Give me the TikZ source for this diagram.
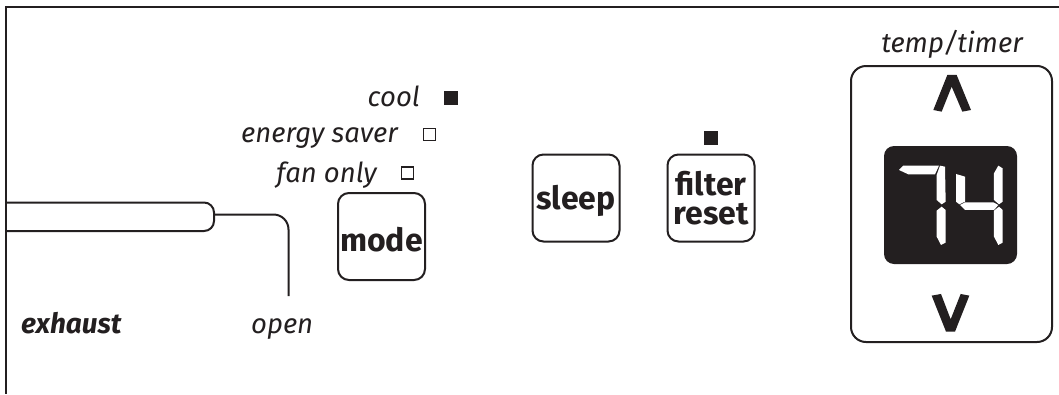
\documentclass[tikz,border=0pt]{standalone}
\usepackage{fontspec}
\setmainfont{Fira Sans}
\definecolor{ink}{HTML}{231F20}
\tikzset{
  linework/.style={draw=ink,line width=2pt},
  btn/.style={linework,rounded corners=11pt,minimum width=87pt,minimum height=87pt,inner sep=0pt,align=center,font=\fontsize{32}{29}\selectfont\bfseries,text=ink},
  lbl/.style={font=\fontsize{27.5}{32}\selectfont\itshape,text=ink,inner sep=0pt},
  ledon/.style={fill=ink,draw=ink,line width=0.5pt,minimum size=13pt,inner sep=0pt},
  ledoff/.style={draw=ink,line width=1.2pt,fill=white,minimum size=12pt,inner sep=0pt},
  seg/.style={fill=white,draw=none}
}
\begin{document}
\begin{tikzpicture}[x=1pt,y=-1pt]
\useasboundingbox (0,0) rectangle (1059,394);
\fill[white] (0,0) rectangle (1059,394);
% frame
\draw[linework] (1059,6.5) -- (6,6.5) -- (6,394);
% slider
\draw[linework] (6,202.5) -- (204,202.5) arc[start angle=-90,end angle=0,radius=10]
  -- (214,221) arc[start angle=0,end angle=90,radius=10] -- (6,231);
\coordinate (sliderend) at (214,214.5);
\coordinate (openend) at (288.5,296);
\draw[linework,rounded corners=15pt] (sliderend) -- (288.5,214.5) -- (openend);
\node[lbl,anchor=base west,font=\fontsize{28}{32}\selectfont\bfseries\itshape] (exhaust) at (21,333) {exhaust};
\node[lbl,anchor=base west] (open) at (251,333) {open};
% mode labels
\node[lbl,anchor=base east] (cool) at (420,106) {cool};
\node[lbl,anchor=base east] (saver) at (398,142) {energy saver};
\node[lbl,anchor=base east] (fan) at (377,182) {fan only};
\node[ledon] (ledcool) at (451,97.5) {};
\node[ledoff] (ledsaver) at (429.5,134.5) {};
\node[ledoff] (ledfan) at (407.5,173) {};
% buttons
\node[btn] (mode) at (381.5,236.5) {\raisebox{-3pt}[\height][\depth]{mode}};
\node[btn] (sleep) at (576,198) {\raisebox{-3pt}[\height][\depth]{sleep}};
\node[btn] (filter) at (711,198) {filter\\reset};
\node[ledon] (ledfilter) at (711,137.5) {};
% temp/timer
\node[lbl,anchor=base] (temp) at (952,52) {temp/timer};
\node[linework,rounded corners=15pt,minimum width=201pt,minimum height=276pt,inner sep=0pt] (panel) at (951.5,204) {};
\node[fill=ink,rounded corners=10pt,minimum width=133pt,minimum height=118pt,inner sep=0pt] (display) at (950.5,205) {};
\begin{scope}[shift={(840,20)},x=0.3333pt,y=-0.3333pt]
\fill[ink] (338,165) -- (322,165) -- (280,270) -- (305,275) -- (335,200) -- (367,275) -- (393,270) -- (350,165) -- cycle;
\fill[ink] (275,827) -- (303,822) -- (332,898) -- (362,822) -- (388,827) -- (345,935) -- (318,935) -- cycle;
\fill[seg] (177,450) -- (190,437) -- (297,437) -- (285,463) -- (205,463) -- cycle;
\fill[seg] (300,437) -- (315,440) -- (317,545) -- (305,553) -- (290,540) -- (290,465) -- cycle;
\fill[seg] (305,560) -- (317,570) -- (317,668) -- (303,675) -- (290,650) -- (290,572) -- cycle;
\fill[seg] (348,462) -- (375,470) -- (375,545) -- (358,553) -- (348,545) -- cycle;
\fill[seg] (360,555) -- (375,547) -- (460,547) -- (475,555) -- (462,570) -- (375,570) -- cycle;
\fill[seg] (475,437) -- (488,445) -- (488,545) -- (477,553) -- (462,540) -- (462,460) -- cycle;
\fill[seg] (477,560) -- (488,570) -- (488,668) -- (475,675) -- (462,650) -- (462,572) -- cycle;
\end{scope}
\end{tikzpicture}
\end{document}
